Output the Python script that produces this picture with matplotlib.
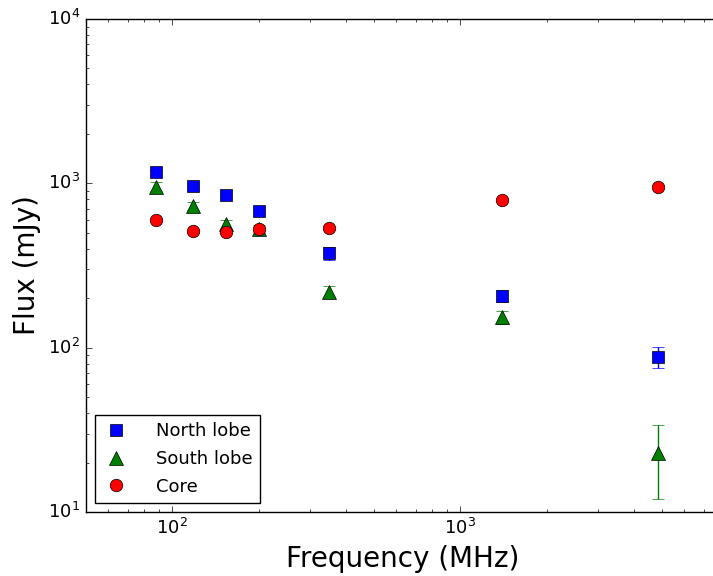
import matplotlib
matplotlib.use('Agg')
import matplotlib.pyplot as plt
import numpy as np

plt.style.use('classic')

freq = [88, 118, 154, 200, 350, 1400, 4850]

north = [1170, 965, 850, 680, 375, 207, 88]
north_err = [40, 30, 25, 20, 35, 18, 13]

south = [955, 725, 565, 530, 218, 153, 23]
south_err = [60, 40, 35, 25, 18, 14, 11]

core = [598, 512, 508, 530, 538, 795, 950]
core_err = [15, 12, 12, 12, 15, 20, 25]

fig = plt.figure(figsize=(7.13, 5.76), dpi=100, facecolor='white')
# axes run a bit past the right edge, like the cropped original
ax = fig.add_axes([0.12, 0.111, 0.8905, 0.856])

n = ax.errorbar(freq, north, yerr=north_err, fmt='s', color='b', ecolor='b',
                markersize=9, markeredgecolor='k', markeredgewidth=0.5, capsize=4,
                label='North lobe')
s = ax.errorbar(freq, south, yerr=south_err, fmt='^', color='g', ecolor='g',
                markersize=10, markeredgecolor='k', markeredgewidth=0.5, capsize=4,
                label='South lobe')
c = ax.errorbar(freq, core, yerr=core_err, fmt='o', color='r', ecolor='r',
                markersize=9, markeredgecolor='k', markeredgewidth=0.5, capsize=4,
                label='Core')

ax.set_xscale('log')
ax.set_yscale('log')
ax.set_xlim(50, 8000)
ax.set_ylim(10, 1e4)

ax.set_xlabel('Frequency (MHz)', fontsize=20)
ax.set_ylabel('Flux (mJy)', fontsize=20)
ax.tick_params(labelsize=13)

leg = ax.legend([n[0], s[0], c[0]], ['North lobe', 'South lobe', 'Core'],
                loc='lower left', numpoints=1, fontsize=13, fancybox=False,
                borderpad=0.4, handlelength=1.6, handletextpad=1.4,
                labelspacing=0.55)
leg.get_frame().set_edgecolor('k')

fig.savefig('out.png', dpi=100, facecolor='white')
